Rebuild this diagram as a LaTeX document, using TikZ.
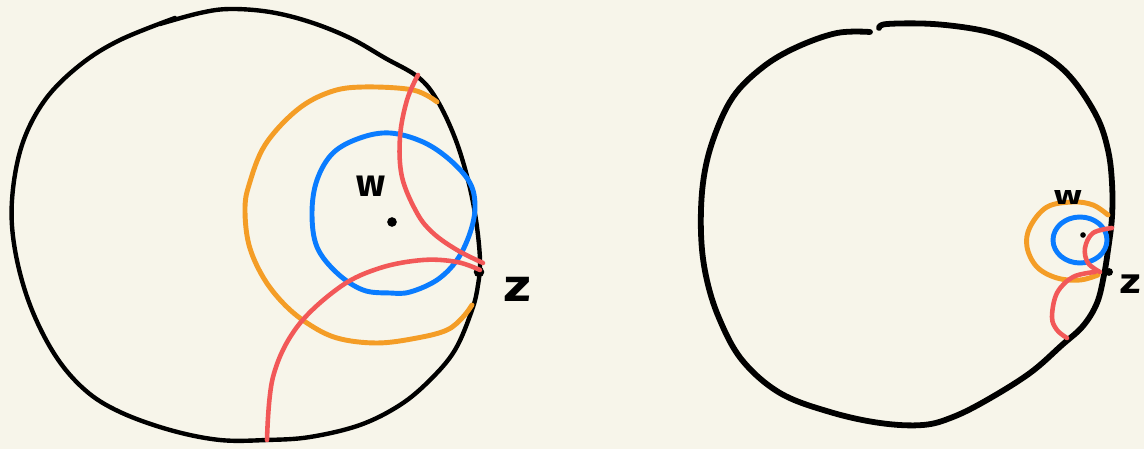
\documentclass[tikz,border=0pt]{standalone}
\usepackage{fontspec}
\newfontfamily\handfont{Fira Sans}
\usetikzlibrary{positioning}
\definecolor{paper}{RGB}{247,245,234}
\definecolor{horange}{RGB}{244,157,38}
\definecolor{hblue}{RGB}{10,124,255}
\definecolor{hred}{RGB}{242,88,88}

\begin{document}
\begin{tikzpicture}[x=0.02cm, y=-0.02cm,
    rim/.style={draw=black, line width=2.5pt, line cap=round, line join=round},
    bigrim/.style={rim, line width=3.3pt},
    ring/.style={line width=2.8pt, line cap=round, line join=round},
    geod/.style={draw=hred, line width=2.6pt, line cap=round},
    dot/.style={circle, fill=black, inner sep=0pt, minimum size=#1},
    lbl/.style={inner sep=0pt, font=\handfont\bfseries}
  ]
  \fill[paper] (0,0) rectangle (1144,449);

  % left disk
  \draw[rim] plot[smooth, tension=0.6] coordinates {(160,24) (200,13) (230,9) (270,12) (310,22) (350,38) (385,58) (418,77) (437,100) (455,138) (468,180) (476,220) (480,260) (478,285) (472,310) (455,350) (430,380) (400,405) (360,425) (310,437) (267,440) (220,440) (170,430) (120,412) (85,390) (55,355) (30,305) (15,250) (12,200) (22,145) (45,100) (80,65) (120,40) (175,18)};
  \draw[ring, draw=horange] plot[smooth, tension=0.6] coordinates {(437,102) (413,90) (363,87) (330,92) (297,110) (265,145) (249,185) (245,210) (249,245) (263,277) (283,303) (307,323) (337,338) (377,343) (417,338) (447,330) (463,317) (472,305)};
  \draw[ring, draw=hblue] plot[smooth cycle, tension=0.6] coordinates {(390,133) (423,142) (450,160) (470,183) (475,207) (470,233) (457,260) (437,280) (410,292) (390,293) (363,290) (337,273) (317,247) (312,213) (317,180) (333,153) (360,138)};
  \node[dot=5.5pt] (wL) at (392,222) {};
  \node[dot=6pt] (zL) at (479,272) {};
  \node[lbl, font=\handfont\bfseries\fontsize{22}{22}\selectfont] (wLtxt) at (371,186) {w};
  \node[lbl, font=\handfont\bfseries\fontsize{26}{26}\selectfont, xscale=1.25] (zLtxt) at (518,289) {z};
  \draw[geod] plot[smooth, tension=0.6] coordinates {(418,75) (407,100) (400,137) (402,177) (417,213) (433,233) (457,250) (483,263)};
  \draw[geod] plot[smooth, tension=0.6] coordinates {(480,270) (457,262) (423,260) (380,268) (340,287) (297,327) (273,377) (267,440)};

  % right disk
  \draw[bigrim] plot[smooth, tension=0.6] coordinates {(870,32) (837,33) (797,47) (763,67) (733,97) (713,140) (703,183) (701,233) (706,276) (719,318) (742,360) (780,393) (830,412) (880,423) (923,425) (953,417) (987,400) (1030,373) (1062,345) (1083,326) (1097,303) (1104,275) (1108,250) (1112,217) (1112,183) (1108,150) (1097,117) (1073,80) (1047,57) (1013,40) (980,30) (933,24) (887,24) (879,28)};
  \draw[ring, draw=horange] plot[smooth, tension=0.6] coordinates {(1108,215) (1093,205) (1073,202) (1047,207) (1030,227) (1027,247) (1037,267) (1057,278) (1080,280) (1098,275)};
  \draw[ring, draw=hblue] (1080,240) ellipse [x radius=27, y radius=23];
  \node[dot=3.2pt] (wR) at (1083,235) {};
  \node[dot=4.5pt] (zR) at (1109,272) {};
  \node[lbl, font=\handfont\bfseries\fontsize{15}{15}\selectfont, xscale=1.4] (wRtxt) at (1068,198) {w};
  \node[lbl, font=\handfont\bfseries\fontsize{20}{20}\selectfont, xscale=1.25] (zRtxt) at (1131,284) {z};
  \draw[geod] plot[smooth, tension=0.6] coordinates {(1112,228) (1093,233) (1085,248) (1088,263) (1100,272)};
  \draw[geod] plot[smooth, tension=0.6] coordinates {(1095,272) (1073,277) (1057,293) (1052,317) (1057,330) (1067,338)};
\end{tikzpicture}
\end{document}
